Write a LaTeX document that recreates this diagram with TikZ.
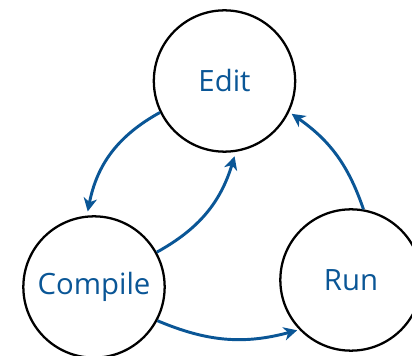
\documentclass[tikz,border=0pt]{standalone}
\usepackage{fontspec}
\setmainfont{Open Sans}
\usepackage{xcolor}
\usetikzlibrary{arrows.meta}

\definecolor{stepblue}{RGB}{10,86,150}

\begin{document}
\begin{tikzpicture}[x=0.75pt,y=-0.75pt,
    stage/.style={circle,draw=black,line width=1.7pt,minimum size=106pt,inner sep=0pt,
                  text=stepblue,font=\fontsize{22}{26}\selectfont},
    flow/.style={draw=stepblue,line width=2.2pt,-{Stealth[length=10pt,width=10pt,inset=3pt]}}]
    \useasboundingbox (0,0) rectangle (412,356);
    \clip (0,0) rectangle (412,356);
    % the three stages
    \node[stage] (edit) at (224.5,81) {Edit};
    \node[stage] (compile) at (94,287) {Compile};
    \node[stage] (run) at (351,280) {Run};
    % the cycle
    \draw[flow] (edit.206) to[bend right=25] ([yshift=3pt]compile.95);
    \draw[flow] (compile.29) to[bend right=22] ([xshift=1pt,yshift=-3pt]edit.277);
    \draw[flow] (compile.-28) to[bend right=19] ([xshift=-1pt,yshift=-1pt]run.223);
    \draw[flow] (run.80) to[bend right=18] ([xshift=2pt,yshift=-1pt]edit.334);
\end{tikzpicture}
\end{document}
